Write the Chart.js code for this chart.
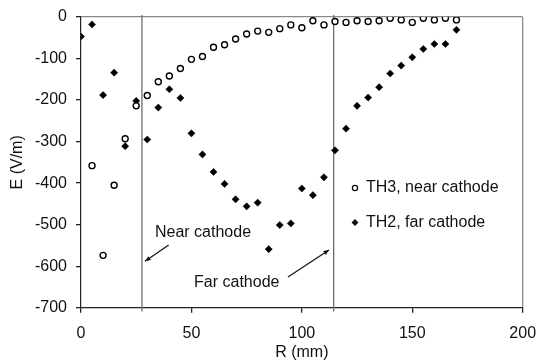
<!DOCTYPE html>
<html lang="en">
  <head>
    <meta charset="UTF-8" />
    <title>E vs R</title>
    <script src="https://cdn.jsdelivr.net/npm/chart.js@4.4.1/dist/chart.umd.min.js"></script>
    <style>
      body { margin: 0; background: #fff; }
      #wrap { width: 537px; height: 362px; }
    </style>
  </head>
  <body>
    <div id="wrap"><canvas id="chart" width="537" height="362"></canvas></div>
  </body>
  <script>
    // TH3, near cathode (open circles)
    const th3R = [5, 10, 15, 20, 25, 30, 35, 40, 45, 50, 55, 60, 65, 70, 75, 80, 85,
      90, 95, 100, 105, 110, 115, 120, 125, 130, 135, 140, 145, 150, 155, 160, 165, 170];
    const th3E = [-358, -574, -405, -293, -214, -189, -156, -142, -124, -102, -95, -73,
      -67, -53, -41, -34, -37, -28, -19, -26, -9, -19, -11, -13, -9, -11, -9, -3, -7,
      -13, -3, -7, -3, -7];

    // TH2, far cathode (filled diamonds)
    const th2R = [0, 5, 10, 15, 20, 25, 30, 35, 40, 45, 50, 55, 60, 65, 70, 75, 80, 85,
      90, 95, 100, 105, 110, 115, 120, 125, 130, 135, 140, 145, 150, 155, 160, 165, 170];
    const th2E = [-47, -18, -188, -134, -311, -202, -295, -218, -174, -195, -280, -331,
      -373, -402, -439, -456, -447, -559, -501, -497, -413, -429, -386, -321, -269,
      -214, -194, -169, -136, -117, -97, -77, -65, -65, -31];

    // cathode positions (vertical lines) and their vertical extent
    const cathodeR = [27.6, 114.4];
    const lineSpan = [5, -709];

    const legendLabels = ["TH3, near cathode", "TH2, far cathode"];
    const xTicks = [0, 50, 100, 150, 200];
    const yTicks = [0, -100, -200, -300, -400, -500, -600, -700];

    const family = "'Liberation Sans', Arial, sans-serif";
    const font = "16px " + family;
    const ink = "#111";

    const pts = (xs, ys) => xs.map((x, i) => ({ x, y: ys[i] }));

    const vLine = (r) => ({
      label: "",
      data: [{ x: r, y: lineSpan[0] }, { x: r, y: lineSpan[1] }],
      showLine: true,
      pointRadius: 0,
      borderColor: "#6e6e6e",
      borderWidth: 1.3,
      clip: false,
    });

    function arrow(ctx, x1, y1, x2, y2) {
      const a = Math.atan2(y2 - y1, x2 - x1);
      ctx.beginPath();
      ctx.moveTo(x1, y1);
      ctx.lineTo(x2, y2);
      ctx.stroke();
      ctx.beginPath();
      ctx.moveTo(x2, y2);
      ctx.lineTo(x2 - 6 * Math.cos(a - 0.4), y2 - 6 * Math.sin(a - 0.4));
      ctx.lineTo(x2 - 6 * Math.cos(a + 0.4), y2 - 6 * Math.sin(a + 0.4));
      ctx.closePath();
      ctx.fill();
    }

    const notes = {
      id: "notes",
      afterDraw(chart) {
        const { ctx, scales } = chart;
        const px = (v) => scales.x.getPixelForValue(v);
        const py = (v) => scales.y.getPixelForValue(v);
        ctx.save();
        ctx.font = font;
        ctx.fillStyle = ink;
        ctx.strokeStyle = "#111";
        ctx.lineWidth = 1.2;
        ctx.textBaseline = "middle";

        // annotations
        ctx.fillText("Near cathode", px(33.5), py(-520));
        arrow(ctx, px(39.7), py(-549), px(29), py(-588));
        ctx.fillText("Far cathode", px(51.2), py(-640));
        arrow(ctx, px(93.7), py(-626), px(112.3), py(-561));

        // legend
        const lx = 355;
        const ly = [188, 222.5];
        ctx.lineWidth = 1.3;
        ctx.beginPath();
        ctx.arc(lx, ly[0], 2.6, 0, Math.PI * 2);
        ctx.fillStyle = "#fff";
        ctx.fill();
        ctx.stroke();
        ctx.fillStyle = ink;
        ctx.beginPath();
        ctx.moveTo(lx, ly[1] - 3.5);
        ctx.lineTo(lx + 3.5, ly[1]);
        ctx.lineTo(lx, ly[1] + 3.5);
        ctx.lineTo(lx - 3.5, ly[1]);
        ctx.closePath();
        ctx.fill();
        ctx.fillText(legendLabels[0], lx + 11, ly[0]);
        ctx.fillText(legendLabels[1], lx + 11, ly[1]);
        ctx.restore();
      },
    };

    new Chart(document.getElementById("chart"), {
      type: "scatter",
      data: {
        datasets: [
          {
            label: legendLabels[0],
            data: pts(th3R, th3E),
            pointStyle: "circle",
            pointRadius: 3,
            pointBackgroundColor: "#fff",
            pointBorderColor: "#000",
            pointBorderWidth: 1.4,
          },
          {
            label: legendLabels[1],
            data: pts(th2R, th2E),
            pointStyle: "rectRot",
            pointRadius: 3.6,
            pointBackgroundColor: "#000",
            pointBorderColor: "#000",
            pointBorderWidth: 0.5,
          },
          vLine(cathodeR[0]),
          vLine(cathodeR[1]),
        ],
      },
      options: {
        responsive: false,
        animation: false,
        layout: { padding: { left: 0, top: 17, right: 14.3, bottom: 0 } },
        plugins: { legend: { display: false }, tooltip: { enabled: false } },
        scales: {
          x: {
            type: "linear",
            min: 0,
            max: 200,
            afterBuildTicks: (s) => { s.ticks = xTicks.map((v) => ({ value: v })); },
            afterFit: (s) => {
              s.height = 54.3;
              s.paddingLeft = 0;
              s.paddingRight = 0;
            },
            border: { color: "#222", width: 1.2 },
            grid: {
              drawOnChartArea: true,
              color: (c) => (c.tick && c.tick.value === 200 ? "#8a8a8a" : "rgba(0,0,0,0)"),
              lineWidth: 1.3,
              tickColor: "#222",
              tickLength: 5,
            },
            ticks: { color: ink, padding: 11, font: { family, size: 16 } },
            title: {
              display: true,
              text: "R (mm)",
              color: ink,
              padding: { top: 0, bottom: 0 },
              font: { family, size: 16 },
            },
          },
          y: {
            type: "linear",
            min: -700,
            max: 0,
            afterBuildTicks: (s) => { s.ticks = yTicks.map((v) => ({ value: v })); },
            afterFit: (s) => {
              s.width = 81;
              s.paddingTop = 0;
              s.paddingBottom = 0;
            },
            border: { color: "#222", width: 1.2 },
            grid: {
              drawOnChartArea: true,
              color: (c) => (c.tick && c.tick.value === 0 ? "#8a8a8a" : "rgba(0,0,0,0)"),
              lineWidth: 1.3,
              tickColor: "#222",
              tickLength: 5,
            },
            ticks: { color: ink, padding: 9, font: { family, size: 16 } },
            title: {
              display: true,
              text: "E (V/m)",
              color: ink,
              padding: { top: 8, bottom: 0 },
              font: { family, size: 16 },
            },
          },
        },
      },
      plugins: [notes],
    });
  </script>
</html>
